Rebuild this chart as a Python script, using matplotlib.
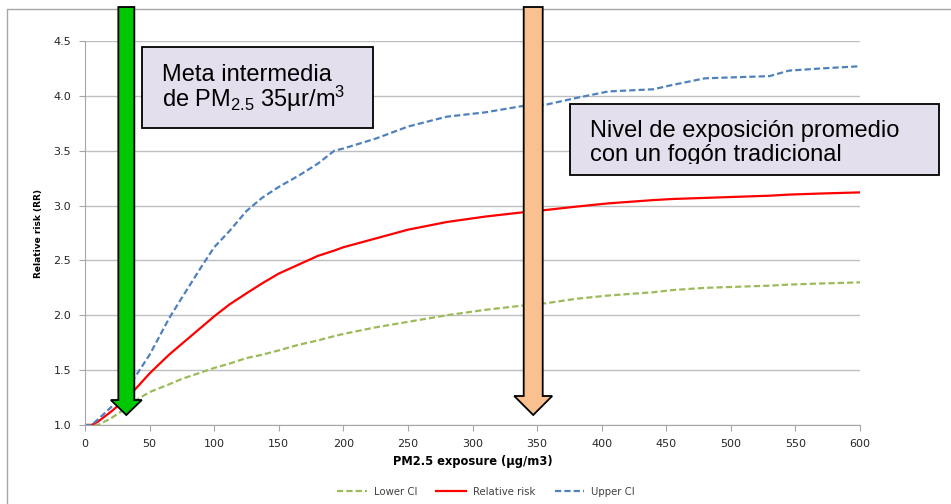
import matplotlib
matplotlib.use('Agg')
import matplotlib.pyplot as plt
from matplotlib.patches import Rectangle, Polygon
from matplotlib.lines import Line2D

# datos
exposure = [0, 5, 10, 20, 30, 40, 50, 65, 75, 90, 100, 112, 125, 137, 150, 165, 180,
            193, 200, 225, 250, 280, 310, 340, 357, 380, 405, 440, 455, 480, 530, 545,
            570, 600]
lower_ci = [1.00, 1.00, 1.00, 1.06, 1.14, 1.23, 1.30, 1.37, 1.42, 1.48, 1.52, 1.56,
            1.61, 1.64, 1.68, 1.73, 1.77, 1.81, 1.83, 1.89, 1.94, 2.00, 2.05, 2.09,
            2.11, 2.15, 2.18, 2.21, 2.23, 2.25, 2.27, 2.28, 2.29, 2.30]
relative_risk = [1.00, 1.00, 1.03, 1.12, 1.22, 1.34, 1.47, 1.64, 1.74, 1.89, 1.99, 2.10,
                 2.20, 2.29, 2.38, 2.46, 2.54, 2.59, 2.62, 2.70, 2.78, 2.85, 2.90, 2.94,
                 2.96, 2.99, 3.02, 3.05, 3.06, 3.07, 3.09, 3.10, 3.11, 3.12]
upper_ci = [1.00, 1.00, 1.05, 1.16, 1.29, 1.46, 1.64, 1.97, 2.16, 2.44, 2.62, 2.77,
            2.95, 3.07, 3.17, 3.27, 3.38, 3.50, 3.52, 3.61, 3.72, 3.81, 3.85, 3.91,
            3.92, 3.98, 4.04, 4.06, 4.10, 4.16, 4.18, 4.23, 4.25, 4.27]

x_ticks = list(range(0, 601, 50))
y_ticks = [1.0, 1.5, 2.0, 2.5, 3.0, 3.5, 4.0, 4.5]

# flechas: meta intermedia y nivel de fogon tradicional
arrow_targets = [32, 347]
arrow_colors = ['#00C800', '#FAC090']

W, H = 951, 504


def fx(px):
    return px / W


def fy(py):
    return 1 - py / H


fig = plt.figure(figsize=(W / 100, H / 100), dpi=100)
fig.patch.set_facecolor('white')

# marco exterior del grafico
fig.add_artist(Line2D([fx(7), fx(7), fx(951)], [fy(504), fy(9), fy(9)],
                      transform=fig.transFigure, color='#A6A6A6', lw=1))

ax = fig.add_axes([fx(85), fy(425), 775 / W, 384 / H])
ax.plot(exposure, lower_ci, color='#9BBB59', lw=1.6, dashes=(2.8, 1.4), label='Lower CI')
ax.plot(exposure, relative_risk, color='#FF0000', lw=1.6, label='Relative risk')
ax.plot(exposure, upper_ci, color='#4F81BD', lw=1.6, dashes=(2.8, 1.4), label='Upper CI')

ax.set_xlim(0, 600)
ax.set_ylim(1.0, 4.5)
ax.set_xticks(x_ticks)
ax.set_yticks(y_ticks)
ax.set_yticklabels([f'{v:.1f}' for v in y_ticks])
ax.tick_params(direction='out', length=4, color='#A6A6A6', labelsize=8,
               labelcolor='#262626', pad=6)
ax.grid(axis='y', color='#BFBFBF', lw=1)
ax.set_axisbelow(True)
for s in ['top', 'right']:
    ax.spines[s].set_visible(False)
for s in ['left', 'bottom']:
    ax.spines[s].set_color('#A6A6A6')

ax.set_xlabel('PM2.5 exposure (µg/m3)', fontsize=8.3, fontweight='bold', va='center')
ax.xaxis.set_label_coords(0.5, -36 / 384)
ax.set_ylabel('Relative risk (RR)', fontsize=6.5, fontweight='bold', va='center')
ax.yaxis.set_label_coords((39 - 85) / 775, 0.5)

handles, labels = ax.get_legend_handles_labels()
leg = fig.legend(handles, labels, loc='center', bbox_to_anchor=(fx(486), fy(492)),
                 ncol=3, frameon=False, fontsize=7.3, handlelength=2.9,
                 columnspacing=1.9, handletextpad=0.7)
for t in leg.get_texts():
    t.set_color('#404040')

# flechas hacia abajo
fig.canvas.draw()
shapes = [(8, 15.5, 7, 400), (9.5, 19, 7, 396)]
for target, color, (sw, hw, top, head_top) in zip(arrow_targets, arrow_colors, shapes):
    xc = ax.transData.transform((target, 1.0))[0]
    pts = [(xc - sw, top), (xc + sw, top), (xc + sw, head_top), (xc + hw, head_top),
           (xc, 415), (xc - hw, head_top), (xc - sw, head_top)]
    fig.add_artist(Polygon([(fx(p[0]), fy(p[1])) for p in pts], closed=True,
                           transform=fig.transFigure, facecolor=color,
                           edgecolor='black', lw=1.3, zorder=5))

# cuadros de texto
plt.rcParams['mathtext.fontset'] = 'custom'
plt.rcParams['mathtext.rm'] = 'Liberation Sans'
plt.rcParams['mathtext.it'] = 'Liberation Sans:italic'

fig.add_artist(Rectangle((fx(142), fy(128)), fx(373) - fx(142), fy(47) - fy(128),
                         transform=fig.transFigure, facecolor='#E4DFEC',
                         edgecolor='black', lw=1.3, zorder=6))
fig.text(fx(162), fy(81), 'Meta intermedia', family='Liberation Sans', fontsize=17,
         va='baseline', zorder=7)
fig.text(fx(162), fy(107), 'de PM$_{2.5}$ 35µr/m$^{3}$', family='Liberation Sans',
         fontsize=17, va='baseline', zorder=7)

box2 = Rectangle((fx(570), fy(175)), fx(939) - fx(570), fy(104) - fy(175),
                 transform=fig.transFigure, facecolor='#E4DFEC',
                 edgecolor='black', lw=1.3, zorder=6)
fig.add_artist(box2)
# el texto original queda cortado justo bajo la linea base
clip = Rectangle((fx(571), fy(164)), fx(938) - fx(571), fy(105) - fy(164),
                 transform=fig.transFigure, figure=fig)
for txt, base in [('Nivel de exposición promedio', 137), ('con un fogón tradicional', 161)]:
    t = fig.text(fx(590), fy(base), txt, family='Liberation Sans', fontsize=17,
                 va='baseline', zorder=7, clip_on=True)
    t.set_clip_path(clip)

fig.savefig('out.png', dpi=100)
